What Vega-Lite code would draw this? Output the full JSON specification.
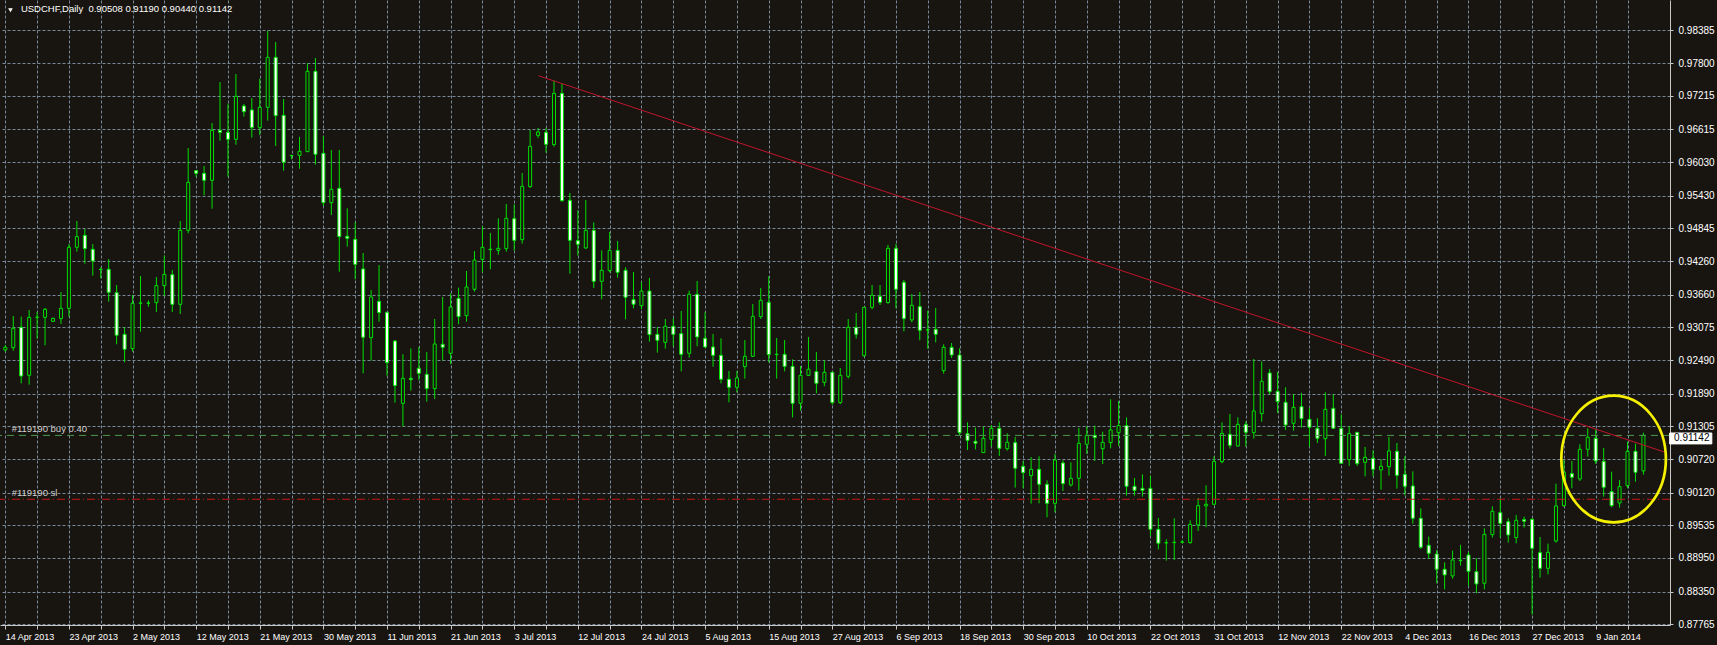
{
  "$schema": "https://vega.github.io/schema/vega-lite/v6.json",
  "width": 1670,
  "height": 625,
  "autosize": {"type": "none"},
  "padding": {"left": 0, "top": 0, "right": 47, "bottom": 20},
  "background": "#18140f",
  "config": {
    "view": {"stroke": null, "fill": "#18140f"},
    "axis": {"labelFont": "Liberation Sans", "labelColor": "#ffffff", "domainColor": "#c8c8c8", "tickColor": "#c8c8c8", "gridColor": "#778899", "gridDash": [3, 2], "gridOpacity": 1, "title": null, "labelOverlap": false, "labelBound": false, "labelFlush": false, "tickCount": 200}
  },
  "data": {"values": [
    {"k":0,"o":0.92669,"h":0.92759,"l":0.92640,"c":0.92717},
    {"k":1,"o":0.92711,"h":0.93277,"l":0.92657,"c":0.93057},
    {"k":2,"o":0.93075,"h":0.93265,"l":0.92073,"c":0.92204},
    {"k":3,"o":0.92216,"h":0.93384,"l":0.92049,"c":0.93253},
    {"k":4,"o":0.93253,"h":0.93349,"l":0.92872,"c":0.93255},
    {"k":5,"o":0.93253,"h":0.93420,"l":0.92753,"c":0.93396},
    {"k":6,"o":0.93182,"h":0.93247,"l":0.93170,"c":0.93235},
    {"k":7,"o":0.93230,"h":0.93706,"l":0.93134,"c":0.93414},
    {"k":8,"o":0.93414,"h":0.94564,"l":0.93265,"c":0.94505},
    {"k":9,"o":0.94505,"h":0.94976,"l":0.94427,"c":0.94696},
    {"k":10,"o":0.94719,"h":0.94833,"l":0.94213,"c":0.94481},
    {"k":11,"o":0.94469,"h":0.94564,"l":0.93998,"c":0.94261},
    {"k":12,"o":0.94110,"h":0.94147,"l":0.93951,"c":0.94106},
    {"k":13,"o":0.94112,"h":0.94296,"l":0.93533,"c":0.93700},
    {"k":14,"o":0.93694,"h":0.93831,"l":0.92771,"c":0.92932},
    {"k":15,"o":0.92949,"h":0.93075,"l":0.92449,"c":0.92681},
    {"k":16,"o":0.92693,"h":0.93653,"l":0.92640,"c":0.93504},
    {"k":17,"o":0.93504,"h":0.93992,"l":0.92997,"c":0.93510},
    {"k":18,"o":0.93510,"h":0.93557,"l":0.93444,"c":0.93506},
    {"k":19,"o":0.93516,"h":0.93974,"l":0.93349,"c":0.93820},
    {"k":20,"o":0.93820,"h":0.94356,"l":0.93635,"c":0.94022},
    {"k":21,"o":0.94016,"h":0.94100,"l":0.93349,"c":0.93486},
    {"k":22,"o":0.93486,"h":0.94976,"l":0.93313,"c":0.94809},
    {"k":23,"o":0.94809,"h":0.96281,"l":0.94755,"c":0.95667},
    {"k":24,"o":0.95876,"h":0.95888,"l":0.95768,"c":0.95828},
    {"k":25,"o":0.95828,"h":0.95959,"l":0.95435,"c":0.95703},
    {"k":26,"o":0.95703,"h":0.96728,"l":0.95196,"c":0.96597},
    {"k":27,"o":0.96597,"h":0.97461,"l":0.96412,"c":0.96561},
    {"k":28,"o":0.96561,"h":0.97074,"l":0.95768,"c":0.96436},
    {"k":29,"o":0.96436,"h":0.97604,"l":0.96340,"c":0.97205},
    {"k":30,"o":0.97032,"h":0.97068,"l":0.96841,"c":0.96930},
    {"k":31,"o":0.96960,"h":0.97175,"l":0.96466,"c":0.96644},
    {"k":32,"o":0.96644,"h":0.97520,"l":0.96513,"c":0.97008},
    {"k":33,"o":0.97008,"h":0.98373,"l":0.96770,"c":0.97902},
    {"k":34,"o":0.97902,"h":0.98176,"l":0.96317,"c":0.96859},
    {"k":35,"o":0.96865,"h":0.97157,"l":0.95876,"c":0.96025},
    {"k":36,"o":0.96150,"h":0.96156,"l":0.96078,"c":0.96144},
    {"k":37,"o":0.96150,"h":0.96478,"l":0.95911,"c":0.96221},
    {"k":38,"o":0.96215,"h":0.97795,"l":0.96215,"c":0.97652},
    {"k":39,"o":0.97652,"h":0.97890,"l":0.95983,"c":0.96168},
    {"k":40,"o":0.96186,"h":0.96495,"l":0.95244,"c":0.95303},
    {"k":41,"o":0.95303,"h":0.96245,"l":0.95083,"c":0.95542},
    {"k":42,"o":0.95560,"h":0.96245,"l":0.94070,"c":0.94696},
    {"k":43,"o":0.94702,"h":0.95202,"l":0.94517,"c":0.94666},
    {"k":44,"o":0.94648,"h":0.94952,"l":0.93933,"c":0.94201},
    {"k":45,"o":0.94118,"h":0.94404,"l":0.92252,"c":0.92896},
    {"k":46,"o":0.92890,"h":0.93742,"l":0.92479,"c":0.93617},
    {"k":47,"o":0.93539,"h":0.94189,"l":0.93176,"c":0.93337},
    {"k":48,"o":0.93343,"h":0.93343,"l":0.92210,"c":0.92443},
    {"k":49,"o":0.92830,"h":0.92848,"l":0.91728,"c":0.92032},
    {"k":50,"o":0.91716,"h":0.92592,"l":0.91299,"c":0.92163},
    {"k":51,"o":0.92163,"h":0.92699,"l":0.91942,"c":0.92139},
    {"k":52,"o":0.92342,"h":0.92723,"l":0.92133,"c":0.92252},
    {"k":53,"o":0.92234,"h":0.92634,"l":0.91746,"c":0.91978},
    {"k":54,"o":0.91978,"h":0.93224,"l":0.91793,"c":0.92777},
    {"k":55,"o":0.92771,"h":0.93617,"l":0.92479,"c":0.92717},
    {"k":56,"o":0.92610,"h":0.93682,"l":0.92413,"c":0.93438},
    {"k":57,"o":0.93593,"h":0.93784,"l":0.93128,"c":0.93265},
    {"k":58,"o":0.93283,"h":0.94082,"l":0.93176,"c":0.93796},
    {"k":59,"o":0.93754,"h":0.94439,"l":0.93712,"c":0.94278},
    {"k":60,"o":0.94290,"h":0.94886,"l":0.94058,"c":0.94505},
    {"k":61,"o":0.94470,"h":0.94761,"l":0.94112,"c":0.94463},
    {"k":62,"o":0.94451,"h":0.95023,"l":0.94374,"c":0.94487},
    {"k":63,"o":0.94481,"h":0.95280,"l":0.94427,"c":0.95023},
    {"k":64,"o":0.95017,"h":0.95274,"l":0.94445,"c":0.94630},
    {"k":65,"o":0.94642,"h":0.95834,"l":0.94571,"c":0.95596},
    {"k":66,"o":0.95590,"h":0.96603,"l":0.95566,"c":0.96311},
    {"k":67,"o":0.96507,"h":0.96639,"l":0.96460,"c":0.96567},
    {"k":68,"o":0.96561,"h":0.96639,"l":0.96198,"c":0.96347},
    {"k":69,"o":0.96341,"h":0.97485,"l":0.96305,"c":0.97258},
    {"k":70,"o":0.97258,"h":0.97437,"l":0.95321,"c":0.95339},
    {"k":71,"o":0.95345,"h":0.95476,"l":0.94034,"c":0.94630},
    {"k":72,"o":0.94624,"h":0.95166,"l":0.94356,"c":0.94559},
    {"k":73,"o":0.94493,"h":0.95351,"l":0.94475,"c":0.94809},
    {"k":74,"o":0.94809,"h":0.94952,"l":0.93778,"c":0.93897},
    {"k":75,"o":0.93897,"h":0.94451,"l":0.93575,"c":0.94094},
    {"k":76,"o":0.94088,"h":0.94779,"l":0.94058,"c":0.94451},
    {"k":77,"o":0.94451,"h":0.94618,"l":0.93963,"c":0.94058},
    {"k":78,"o":0.94094,"h":0.94147,"l":0.93218,"c":0.93611},
    {"k":79,"o":0.93569,"h":0.94064,"l":0.93414,"c":0.93486},
    {"k":80,"o":0.93462,"h":0.93885,"l":0.93396,"c":0.93724},
    {"k":81,"o":0.93724,"h":0.93957,"l":0.92818,"c":0.92944},
    {"k":82,"o":0.92949,"h":0.93081,"l":0.92622,"c":0.92842},
    {"k":83,"o":0.92806,"h":0.93224,"l":0.92693,"c":0.93093},
    {"k":84,"o":0.93093,"h":0.93236,"l":0.92735,"c":0.92949},
    {"k":85,"o":0.92961,"h":0.93367,"l":0.92288,"c":0.92592},
    {"k":86,"o":0.92610,"h":0.93730,"l":0.92532,"c":0.93665},
    {"k":87,"o":0.93665,"h":0.93903,"l":0.92735,"c":0.92902},
    {"k":88,"o":0.92878,"h":0.93343,"l":0.92711,"c":0.92723},
    {"k":89,"o":0.92723,"h":0.92955,"l":0.92371,"c":0.92574},
    {"k":90,"o":0.92574,"h":0.92878,"l":0.92073,"c":0.92145},
    {"k":91,"o":0.92145,"h":0.92294,"l":0.91734,"c":0.92002},
    {"k":92,"o":0.92002,"h":0.92294,"l":0.91912,"c":0.92169},
    {"k":93,"o":0.92371,"h":0.92848,"l":0.92157,"c":0.92556},
    {"k":94,"o":0.92556,"h":0.93492,"l":0.92550,"c":0.93271},
    {"k":95,"o":0.93265,"h":0.93778,"l":0.93224,"c":0.93557},
    {"k":96,"o":0.93522,"h":0.93986,"l":0.92449,"c":0.92586},
    {"k":97,"o":0.92586,"h":0.92884,"l":0.92157,"c":0.92592},
    {"k":98,"o":0.92592,"h":0.92848,"l":0.92288,"c":0.92377},
    {"k":99,"o":0.92377,"h":0.92502,"l":0.91465,"c":0.91716},
    {"k":100,"o":0.91716,"h":0.92383,"l":0.91585,"c":0.92216},
    {"k":101,"o":0.92216,"h":0.92902,"l":0.92204,"c":0.92324},
    {"k":102,"o":0.92282,"h":0.92634,"l":0.91895,"c":0.92073},
    {"k":103,"o":0.92091,"h":0.92485,"l":0.92020,"c":0.92270},
    {"k":104,"o":0.92270,"h":0.92282,"l":0.91692,"c":0.91728},
    {"k":105,"o":0.91728,"h":0.92347,"l":0.91704,"c":0.92216},
    {"k":106,"o":0.92198,"h":0.93224,"l":0.92157,"c":0.93075},
    {"k":107,"o":0.93075,"h":0.93331,"l":0.92872,"c":0.92950},
    {"k":108,"o":0.92568,"h":0.93440,"l":0.92550,"c":0.93432},
    {"k":109,"o":0.93432,"h":0.93831,"l":0.93396,"c":0.93647},
    {"k":110,"o":0.93629,"h":0.93831,"l":0.93474,"c":0.93522},
    {"k":111,"o":0.93516,"h":0.94547,"l":0.93498,"c":0.94487},
    {"k":112,"o":0.94487,"h":0.94565,"l":0.93414,"c":0.93754},
    {"k":113,"o":0.93879,"h":0.93921,"l":0.93003,"c":0.93230},
    {"k":114,"o":0.93206,"h":0.93671,"l":0.93164,"c":0.93468},
    {"k":115,"o":0.93444,"h":0.93706,"l":0.92842,"c":0.93021},
    {"k":116,"o":0.93027,"h":0.93373,"l":0.92693,"c":0.93033},
    {"k":117,"o":0.93039,"h":0.93420,"l":0.92806,"c":0.92950},
    {"k":118,"o":0.92300,"h":0.92771,"l":0.92246,"c":0.92717},
    {"k":119,"o":0.92717,"h":0.92794,"l":0.92526,"c":0.92580},
    {"k":120,"o":0.92580,"h":0.92699,"l":0.91150,"c":0.91191},
    {"k":121,"o":0.91173,"h":0.91376,"l":0.90881,"c":0.91054},
    {"k":122,"o":0.91036,"h":0.91281,"l":0.90893,"c":0.91001},
    {"k":123,"o":0.90834,"h":0.91299,"l":0.90834,"c":0.91090},
    {"k":124,"o":0.91072,"h":0.91328,"l":0.90941,"c":0.91269},
    {"k":125,"o":0.91269,"h":0.91376,"l":0.90774,"c":0.90911},
    {"k":126,"o":0.90905,"h":0.91179,"l":0.90870,"c":0.91018},
    {"k":127,"o":0.91013,"h":0.91114,"l":0.90208,"c":0.90554},
    {"k":128,"o":0.90589,"h":0.90685,"l":0.90196,"c":0.90476},
    {"k":129,"o":0.90423,"h":0.90756,"l":0.89922,"c":0.90536},
    {"k":130,"o":0.90536,"h":0.90768,"l":0.89928,"c":0.90268},
    {"k":131,"o":0.90268,"h":0.90339,"l":0.89678,"c":0.89928},
    {"k":132,"o":0.89928,"h":0.90810,"l":0.89767,"c":0.90703},
    {"k":133,"o":0.90649,"h":0.90697,"l":0.90148,"c":0.90280},
    {"k":134,"o":0.90256,"h":0.90661,"l":0.90226,"c":0.90375},
    {"k":135,"o":0.90375,"h":0.91275,"l":0.90154,"c":0.91001},
    {"k":136,"o":0.90983,"h":0.91305,"l":0.90810,"c":0.91144},
    {"k":137,"o":0.91144,"h":0.91317,"l":0.90685,"c":0.91102},
    {"k":138,"o":0.90905,"h":0.91209,"l":0.90631,"c":0.91018},
    {"k":139,"o":0.91013,"h":0.91787,"l":0.90911,"c":0.91239},
    {"k":140,"o":0.91191,"h":0.91757,"l":0.90953,"c":0.91317},
    {"k":141,"o":0.91317,"h":0.91465,"l":0.90065,"c":0.90232},
    {"k":142,"o":0.90232,"h":0.90381,"l":0.90065,"c":0.90160},
    {"k":143,"o":0.90196,"h":0.90446,"l":0.90047,"c":0.90160},
    {"k":144,"o":0.90196,"h":0.90423,"l":0.89344,"c":0.89463},
    {"k":145,"o":0.89463,"h":0.89666,"l":0.89105,"c":0.89213},
    {"k":146,"o":0.89219,"h":0.89284,"l":0.88903,"c":0.89225},
    {"k":147,"o":0.89225,"h":0.89660,"l":0.88915,"c":0.89231},
    {"k":148,"o":0.89231,"h":0.89272,"l":0.89213,"c":0.89237},
    {"k":149,"o":0.89225,"h":0.89624,"l":0.89207,"c":0.89552},
    {"k":150,"o":0.89540,"h":0.90023,"l":0.89433,"c":0.89886},
    {"k":151,"o":0.89880,"h":0.90250,"l":0.89499,"c":0.89910},
    {"k":152,"o":0.89910,"h":0.90768,"l":0.89892,"c":0.90679},
    {"k":153,"o":0.90673,"h":0.91376,"l":0.90643,"c":0.91179},
    {"k":154,"o":0.91162,"h":0.91525,"l":0.90905,"c":0.90965},
    {"k":155,"o":0.90953,"h":0.91465,"l":0.90941,"c":0.91340},
    {"k":156,"o":0.91340,"h":0.91394,"l":0.90941,"c":0.91197},
    {"k":157,"o":0.91191,"h":0.92508,"l":0.91084,"c":0.91579},
    {"k":158,"o":0.91531,"h":0.92467,"l":0.91388,"c":0.92109},
    {"k":159,"o":0.92258,"h":0.92330,"l":0.91877,"c":0.91924},
    {"k":160,"o":0.91930,"h":0.92276,"l":0.91543,"c":0.91746},
    {"k":161,"o":0.91734,"h":0.92002,"l":0.91239,"c":0.91328},
    {"k":162,"o":0.91358,"h":0.91883,"l":0.91227,"c":0.91644},
    {"k":163,"o":0.91656,"h":0.91901,"l":0.91281,"c":0.91442},
    {"k":164,"o":0.91430,"h":0.91626,"l":0.90941,"c":0.91287},
    {"k":165,"o":0.91269,"h":0.91448,"l":0.91007,"c":0.91090},
    {"k":166,"o":0.91084,"h":0.91912,"l":0.90774,"c":0.91608},
    {"k":167,"o":0.91626,"h":0.91877,"l":0.91257,"c":0.91269},
    {"k":168,"o":0.91269,"h":0.91519,"l":0.90637,"c":0.90643},
    {"k":169,"o":0.90709,"h":0.91310,"l":0.90595,"c":0.91173},
    {"k":170,"o":0.91197,"h":0.91203,"l":0.90595,"c":0.90637},
    {"k":171,"o":0.90661,"h":0.90935,"l":0.90411,"c":0.90750},
    {"k":172,"o":0.90732,"h":0.90875,"l":0.90411,"c":0.90536},
    {"k":173,"o":0.90524,"h":0.90715,"l":0.90172,"c":0.90589},
    {"k":174,"o":0.90583,"h":0.91114,"l":0.90422,"c":0.90864},
    {"k":175,"o":0.90858,"h":0.91007,"l":0.90190,"c":0.90428},
    {"k":176,"o":0.90446,"h":0.90768,"l":0.90071,"c":0.90232},
    {"k":177,"o":0.90238,"h":0.90500,"l":0.89564,"c":0.89660},
    {"k":178,"o":0.89660,"h":0.89838,"l":0.89111,"c":0.89141},
    {"k":179,"o":0.89177,"h":0.89332,"l":0.88939,"c":0.89034},
    {"k":180,"o":0.89022,"h":0.89094,"l":0.88498,"c":0.88748},
    {"k":181,"o":0.88748,"h":0.88873,"l":0.88390,"c":0.88647},
    {"k":182,"o":0.88629,"h":0.89082,"l":0.88581,"c":0.88915},
    {"k":183,"o":0.88909,"h":0.89183,"l":0.88813,"c":0.88903},
    {"k":184,"o":0.89004,"h":0.89058,"l":0.88456,"c":0.88712},
    {"k":185,"o":0.88706,"h":0.88945,"l":0.88319,"c":0.88486},
    {"k":186,"o":0.88498,"h":0.89481,"l":0.88390,"c":0.89374},
    {"k":187,"o":0.89368,"h":0.89874,"l":0.89314,"c":0.89785},
    {"k":188,"o":0.89761,"h":0.90017,"l":0.89314,"c":0.89570},
    {"k":189,"o":0.89600,"h":0.89660,"l":0.89225,"c":0.89362},
    {"k":190,"o":0.89314,"h":0.89719,"l":0.89213,"c":0.89624},
    {"k":191,"o":0.89636,"h":0.89690,"l":0.89493,"c":0.89606},
    {"k":192,"o":0.89642,"h":0.89660,"l":0.87937,"c":0.89123},
    {"k":193,"o":0.89046,"h":0.89326,"l":0.88599,"c":0.88766},
    {"k":194,"o":0.88766,"h":0.89207,"l":0.88658,"c":0.89052},
    {"k":195,"o":0.89254,"h":0.90280,"l":0.89225,"c":0.89880},
    {"k":196,"o":0.89886,"h":0.90703,"l":0.89868,"c":0.90482},
    {"k":197,"o":0.90458,"h":0.90685,"l":0.90196,"c":0.90393},
    {"k":198,"o":0.90363,"h":0.90983,"l":0.90327,"c":0.90893},
    {"k":199,"o":0.90893,"h":0.91269,"l":0.90762,"c":0.91108},
    {"k":200,"o":0.91090,"h":0.91257,"l":0.90631,"c":0.90685},
    {"k":201,"o":0.90679,"h":0.90917,"l":0.90047,"c":0.90214},
    {"k":202,"o":0.90137,"h":0.90494,"l":0.89856,"c":0.89886},
    {"k":203,"o":0.89934,"h":0.90345,"l":0.89850,"c":0.90226},
    {"k":204,"o":0.90244,"h":0.91030,"l":0.90196,"c":0.90858},
    {"k":205,"o":0.90858,"h":0.90995,"l":0.90315,"c":0.90482},
    {"k":206,"o":0.90508,"h":0.91190,"l":0.90440,"c":0.91142}
  ]},
  "layer": [
    {
      "mark": {"type": "rule", "color": "#00e000", "strokeWidth": 1},
      "encoding": {
        "x": {"field": "k", "type": "quantitative",
          "scale": {"domain": [-0.0375, 208.7125], "nice": false, "zero": false},
          "axis": {"orient": "bottom", "values": [0,4,8,12,16,20,24,28,32,36,40,44,48,52,56,60,64,68,72,76,80,84,88,92,96,100,104,108,112,116,120,124,128,132,136,140,144,148,152,156,160,164,168,172,176,180,184,188,192,196,200,204],
            "labelExpr": "datum.value % 8 == 0 ? ['14 Apr 2013','23 Apr 2013','2 May 2013','12 May 2013','21 May 2013','30 May 2013','11 Jun 2013','21 Jun 2013','3 Jul 2013','12 Jul 2013','24 Jul 2013','5 Aug 2013','15 Aug 2013','27 Aug 2013','6 Sep 2013','18 Sep 2013','30 Sep 2013','10 Oct 2013','22 Oct 2013','31 Oct 2013','12 Nov 2013','22 Nov 2013','4 Dec 2013','16 Dec 2013','27 Dec 2013','9 Jan 2014'][datum.value / 8] : ''",
            "labelAlign": "left", "labelBaseline": "top", "labelPadding": 3, "tickSize": 4, "tickCount": 200, "labelFontSize": 9, "labelOverlap": false, "grid": true}},
        "y": {"field": "l", "type": "quantitative",
          "scale": {"domain": [0.87752, 0.98927], "nice": false, "zero": false},
          "axis": {"orient": "right", "values": [0.98385,0.978,0.97215,0.96615,0.9603,0.9543,0.94845,0.9426,0.9366,0.93075,0.9249,0.9189,0.91305,0.9072,0.9012,0.89535,0.8895,0.8835,0.87765],
            "format": ".5f", "tickSize": 3, "tickCount": 200, "labelPadding": 5, "labelFontSize": 10, "labelOverlap": false, "grid": true}},
        "y2": {"field": "h"}
      }
    },
    {
      "mark": {"type": "bar", "size": 3, "stroke": "#00e000", "strokeWidth": 1},
      "encoding": {
        "x": {"field": "k", "type": "quantitative"},
        "y": {"field": "o", "type": "quantitative"},
        "y2": {"field": "c"},
        "fill": {"condition": {"test": "datum.c >= datum.o", "value": "#18140f"}, "value": "#ffffff"}
      }
    },
    {
      "data": {"values": [{}]},
      "mark": {"type": "rule", "color": "#4e9a4e", "strokeWidth": 1, "strokeDash": [7, 5]},
      "encoding": {"y": {"datum": 0.91142}}
    },
    {
      "data": {"values": [{}]},
      "mark": {"type": "rule", "color": "#c81818", "strokeWidth": 1, "strokeDash": [8, 3, 1, 3]},
      "encoding": {"y": {"datum": 0.9}}
    },
    {
      "data": {"values": [{}]},
      "mark": {"type": "rule", "color": "#c0142c", "strokeWidth": 1},
      "encoding": {"x": {"datum": 67.05}, "x2": {"datum": 208.71}, "y": {"datum": 0.97573}, "y2": {"datum": 0.90841}}
    },
    {
      "data": {"values": [{"t": "#119190 buy 0.40", "p": 0.91142}, {"t": "#119190 sl", "p": 0.9}]},
      "mark": {"type": "text", "align": "left", "baseline": "alphabetic", "dy": -3, "color": "#d0d0d0", "font": "Liberation Sans", "fontSize": 9.5},
      "encoding": {"x": {"datum": 0.8}, "y": {"field": "p", "type": "quantitative"}, "text": {"field": "t"}}
    },
    {
      "data": {"values": [{}]},
      "mark": {"type": "text", "align": "left", "baseline": "alphabetic", "color": "#ffffff", "font": "Liberation Sans", "fontSize": 9.5},
      "encoding": {"x": {"datum": 1.96}, "y": {"datum": 0.98712}, "text": {"value": "USDCHF,Daily\u00a0 0.90508 0.91190 0.90440 0.91142"}}
    },
    {
      "data": {"values": [{}]},
      "mark": {"type": "point", "shape": "triangle-down", "size": 22, "filled": true, "color": "#ffffff", "opacity": 1},
      "encoding": {"x": {"datum": 0.65}, "y": {"datum": 0.98745}}
    },
    {
      "data": {"values": [{}]},
      "mark": {"type": "point", "shape": "M -0.826 0 A 0.826 1 0 1 0 0.826 0 A 0.826 1 0 1 0 -0.826 0 Z", "size": 16028, "filled": false, "stroke": "#f5f000", "strokeWidth": 2.7, "opacity": 1},
      "encoding": {"x": {"datum": 202.25}, "y": {"datum": 0.9072}}
    },
    {
      "data": {"values": [{}]},
      "mark": {"type": "rect", "fill": "#ffffff", "stroke": "#ffffff"},
      "encoding": {"x": {"datum": 209.3}, "x2": {"datum": 214.6}, "y": {"datum": 0.91185}, "y2": {"datum": 0.90990}}
    },
    {
      "data": {"values": [{}]},
      "mark": {"type": "text", "align": "left", "baseline": "middle", "color": "#000000", "font": "Liberation Sans", "fontSize": 10},
      "encoding": {"x": {"datum": 209.85}, "y": {"datum": 0.91087}, "text": {"value": "0.91142"}}
    }
  ]
}
